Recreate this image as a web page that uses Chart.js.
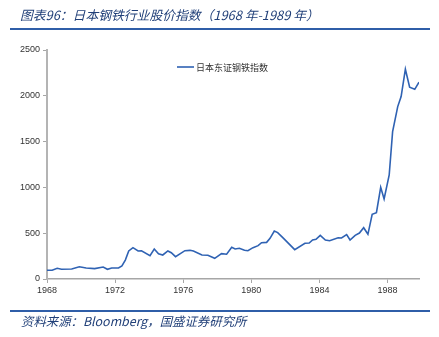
<!DOCTYPE html>
<html>
<head>
<meta charset="utf-8">
<script src="https://cdn.jsdelivr.net/npm/chart.js@4.4.1/dist/chart.umd.min.js"></script>
<style>
  body { margin: 0; background: #fff; }
  #wrap { position: relative; width: 439px; height: 337px; overflow: hidden; }
  #chart { position: absolute; left: 0; top: 0; }
  .rule { position: absolute; left: 10px; width: 420px; height: 2px; background: #2f5ea8; }
  .cap { position: absolute; left: 20px; font-family: "Noto Sans CJK SC", sans-serif; font-style: italic; color: #203f78; white-space: nowrap; }
</style>
</head>
<body>
<div id="wrap">
  <canvas id="chart" width="439" height="337"></canvas>
  <div class="cap" style="top:5px; font-size:12.8px;">图表96：日本钢铁行业股价指数（1968 年-1989 年）</div>
  <div class="rule" style="top:28px;"></div>
  <div class="rule" style="top:310px;"></div>
  <div class="cap" style="top:312px; left:21px; font-size:12.4px;">资料来源：Bloomberg，国盛证券研究所</div>
</div>
<script>
var seriesName = "日本东证钢铁指数";

// dates as decimal years
var years = [
    1968.0, 1968.3, 1968.6, 1968.85, 1969.45, 1969.9, 1970.3, 1970.8, 1971.3, 1971.55,
    1971.8, 1972.2, 1972.4, 1972.6, 1972.8, 1973.05, 1973.35, 1973.55, 1974.05, 1974.3,
    1974.55, 1974.8, 1975.1, 1975.3, 1975.55, 1976.1, 1976.4, 1976.6, 1977.1, 1977.45,
    1977.85, 1978.25, 1978.55, 1978.85, 1979.05, 1979.3, 1979.6, 1979.8, 1980.1, 1980.4,
    1980.6, 1980.9, 1981.1, 1981.35, 1981.55, 1981.85, 1982.55, 1983.15, 1983.4, 1983.6,
    1983.8, 1984.05, 1984.35, 1984.6, 1985.1, 1985.3, 1985.6, 1985.8, 1986.1, 1986.35,
    1986.6, 1986.85, 1987.1, 1987.35, 1987.6, 1987.8, 1988.1, 1988.3, 1988.6, 1988.8,
    1989.05, 1989.3, 1989.6, 1989.85
];
var values = [
    95, 95, 117, 106, 109, 134, 120, 113, 131, 106,
    120, 120, 142, 207, 306, 342, 306, 309, 255, 328,
    275, 262, 306, 287, 244, 309, 313, 306, 262, 259,
    226, 277, 270, 346, 328, 335, 313, 309, 342, 364,
    396, 400, 444, 524, 506, 451, 320, 390, 393, 426,
    433, 477, 426, 418, 451, 448, 484, 426, 477, 502,
    560, 488, 706, 724, 1001, 874, 1136, 1609, 1882, 1991,
    2290, 2093, 2071, 2148
];
var xTicks = [1968, 1972, 1976, 1980, 1984, 1988];
var yTicks = [0, 500, 1000, 1500, 2000, 2500];

var points = [];
for (var i = 0; i < years.length; i++) {
    points.push({ x: years[i], y: values[i] });
}

// small legend drawn inside the plot, like the original
var legendInPlot = {
    id: 'legendInPlot',
    afterDraw: function(chart) {
        var ctx = chart.ctx;
        var ds = chart.data.datasets[0];
        ctx.save();
        ctx.strokeStyle = ds.borderColor;
        ctx.lineWidth = 1.6;
        ctx.beginPath();
        ctx.moveTo(177, 67);
        ctx.lineTo(194, 67);
        ctx.stroke();
        ctx.fillStyle = '#333';
        ctx.font = '9px "Noto Sans CJK SC", sans-serif';
        ctx.textBaseline = 'middle';
        ctx.fillText(ds.label, 196, 67.5);
        ctx.restore();
    }
};

new Chart(document.getElementById('chart'), {
    type: 'scatter',
    data: {
        datasets: [{
            label: seriesName,
            data: points,
            showLine: true,
            borderColor: '#2f62b3',
            borderWidth: 1.6,
            pointRadius: 0,
            tension: 0
        }]
    },
    options: {
        responsive: false,
        animation: false,
        layout: { padding: { left: 0, right: 20, top: 50, bottom: 0 } },
        plugins: {
            legend: { display: false },
            tooltip: { enabled: false }
        },
        scales: {
            x: {
                type: 'linear',
                min: 1968,
                max: 1989.85,
                afterBuildTicks: function(scale) {
                    scale.ticks = xTicks.map(function(v) { return { value: v }; });
                },
                afterFit: function(scale) { scale.height = 58; },
                grid: { drawOnChartArea: false, drawTicks: true, tickLength: 4, color: '#a6a6a6' },
                border: { color: '#a6a6a6', width: 1.5 },
                ticks: {
                    padding: 2,
                    maxRotation: 0,
                    color: '#333',
                    font: { family: 'Liberation Sans, Arial', size: 9 },
                    callback: function(v) { return String(v); }
                }
            },
            y: {
                min: 0,
                max: 2500,
                afterBuildTicks: function(scale) {
                    scale.ticks = yTicks.map(function(v) { return { value: v }; });
                },
                afterFit: function(scale) { scale.width = 47; },
                grid: { drawOnChartArea: false, drawTicks: true, tickLength: 4, color: '#a6a6a6' },
                border: { color: '#b4b4b4', width: 2 },
                ticks: {
                    padding: 3,
                    color: '#333',
                    font: { family: 'Liberation Sans, Arial', size: 9 },
                    callback: function(v) { return String(v); }
                }
            }
        }
    },
    plugins: [legendInPlot]
});
</script>
</body>
</html>
